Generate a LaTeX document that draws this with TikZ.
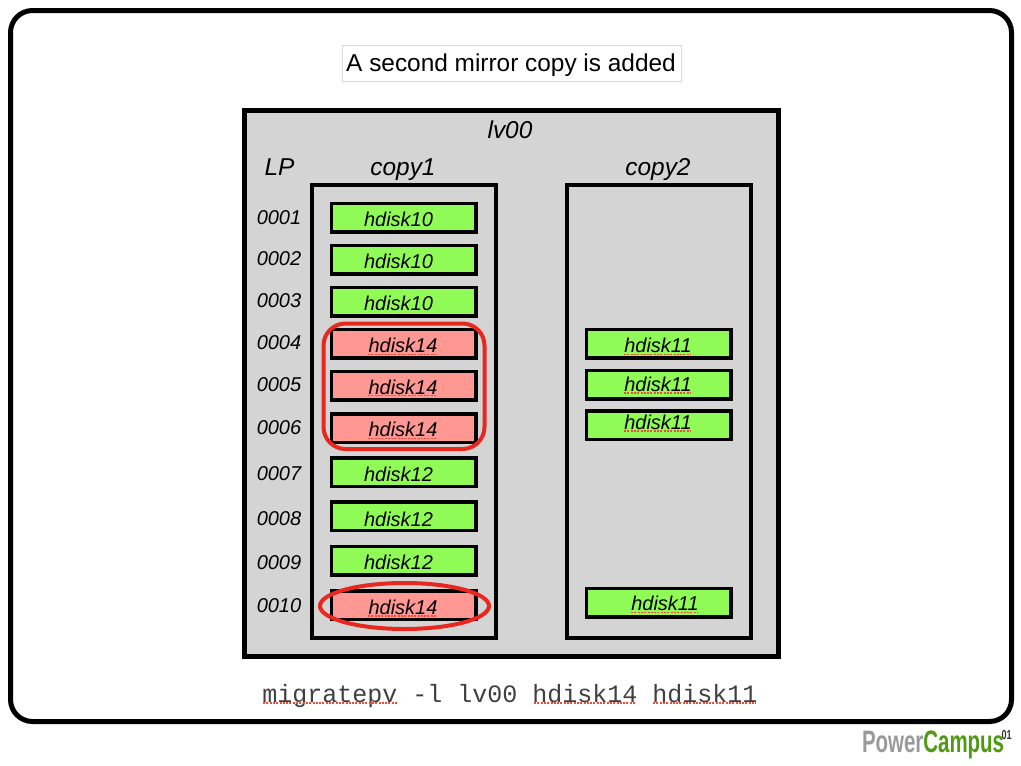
\documentclass[tikz,border=0pt]{standalone}
\usepackage{fontspec}
\setmainfont{Liberation Sans}
\setmonofont{Liberation Mono}
\usetikzlibrary{shapes.geometric}
\definecolor{panelgray}{HTML}{D4D4D4}
\definecolor{diskgreen}{HTML}{90FB57}
\definecolor{diskred}{HTML}{FF9793}
\definecolor{markred}{HTML}{E8281F}
\definecolor{spellred}{HTML}{F04A3A}
\definecolor{logogreen}{HTML}{4F9A12}
\definecolor{logogray}{HTML}{9A9A9A}
\tikzset{
  x=1pt,y=-1pt,
  every node/.style={inner sep=0pt,outer sep=0pt},
  lbl/.style={font=\itshape\fontsize{24.4}{28}\selectfont,anchor=base},
  lpnum/.style={font=\itshape\fontsize{20}{24}\selectfont,anchor=base},
  diskbar/.style={draw=black,line width=3.5pt,minimum width=144.5pt,minimum height=28.5pt,anchor=center},
  greendisk/.style={diskbar,fill=diskgreen},
  reddisk/.style={diskbar,fill=diskred},
  disktext/.style={font=\itshape\fontsize{20}{24}\selectfont,anchor=base},
  spell/.style={draw=spellred,line width=1.5pt,dash pattern=on 2pt off 1.3pt},
  markup/.style={draw=markred,line width=4pt}
}
\begin{document}
\begin{tikzpicture}
\useasboundingbox (0,0) rectangle (1021,766);
\fill[white] (0,0) rectangle (1021,766);
\draw[line width=5pt,rounded corners=22pt] (10.5,10.5) rectangle (1011.5,721.5);
\node[draw=black!15,line width=1pt,fill=white,minimum width=339pt,minimum height=36pt] (title) at (512,63.5) {};
\node[font=\fontsize{24.4}{28}\selectfont,anchor=base] (titletext) at (511,71) {A second mirror copy is added};
\draw[line width=5pt,fill=panelgray] (244.5,110.5) rectangle (778.5,656.5);
\draw[line width=4pt] (312,185) rectangle (496,638);
\draw[line width=4pt] (567,185) rectangle (751,638);
\node[lbl] (lvname) at (510,138) {lv00};
\node[lbl] (lphead) at (279.5,175) {LP};
\node[lbl] (c1head) at (403,175) {copy1};
\node[lbl] (c2head) at (658,175) {copy2};
% LP numbers
\foreach \n/\y in {0001/224,0002/265,0003/307,0004/349,0005/391,0006/434,0007/480,0008/525,0009/569,0010/612}
  \node[lpnum] (lp\n) at (279,\y) {\n};
% copy1 bars: name, bar centre, label, style, label x, label baseline
\foreach \nm/\y/\t/\st/\tx/\by in {
  a/217.5/hdisk10/greendisk/398.5/226,b/259.5/hdisk10/greendisk/398.5/268,c/301.5/hdisk10/greendisk/398.5/310,
  d/343.5/hdisk14/reddisk/403/352.7,e/385.5/hdisk14/reddisk/403/394,f/428/hdisk14/reddisk/403/436.7,
  g/472/hdisk12/greendisk/398.5/481,h/516/hdisk12/greendisk/398.5/526,i/560.5/hdisk12/greendisk/398.5/569.5,
  j/605/hdisk14/reddisk/403/614.3}{
  \node[\st] (bar\nm) at (403.5,\y) {};
  \node[disktext] (txt\nm) at (\tx,\by) {\t};
}
% copy2 bars
\foreach \nm/\y/\tx/\by in {k/343.5/658/352.7,l/384.5/658/391.3,m/425/658/429.5,n/602.5/665/610.7}{
  \node[greendisk] (bar\nm) at (658.5,\y) {};
  \node[disktext] (txt\nm) at (\tx,\by) {hdisk11};
}
% spell-check underlines
\foreach \xa/\xb/\y in {368/437/354.4,368/437/395.7,368/437/438.4,368/437/616,
  624/691/354.4,624/691/393,624/691/431.2,631/698/612.4}
  \draw[spell] (\xa,\y) -- (\xb,\y);
% red marks
\draw[markup,rounded corners=22pt] (323.5,323.5) rectangle (484.5,449);
\node[ellipse,markup,minimum width=169pt,minimum height=46pt] (ring) at (404.5,606) {};
% command
\node[font=\ttfamily\fontsize{25}{28}\selectfont,text=black!75,anchor=base] (cmd) at (510,702) {migratepv -l lv00 hdisk14 hdisk11};
\draw[spell] (263,703) -- (397,703);
\draw[spell] (534,703) -- (636,703);
\draw[spell] (653,703) -- (756,703);
% logo
\node[anchor=base west] (logo) at (862,752) {\scalebox{0.66}[1]{\fontsize{31}{34}\selectfont\textbf{\textcolor{logogray}{Power}\textcolor{logogreen}{Campus}}}};
\node[anchor=base west,font=\bfseries] (logonum) at (1001.5,739) {\scalebox{0.7}[1]{\fontsize{13}{14}\selectfont\textcolor{black!80}{01}}};
\end{tikzpicture}
\end{document}
